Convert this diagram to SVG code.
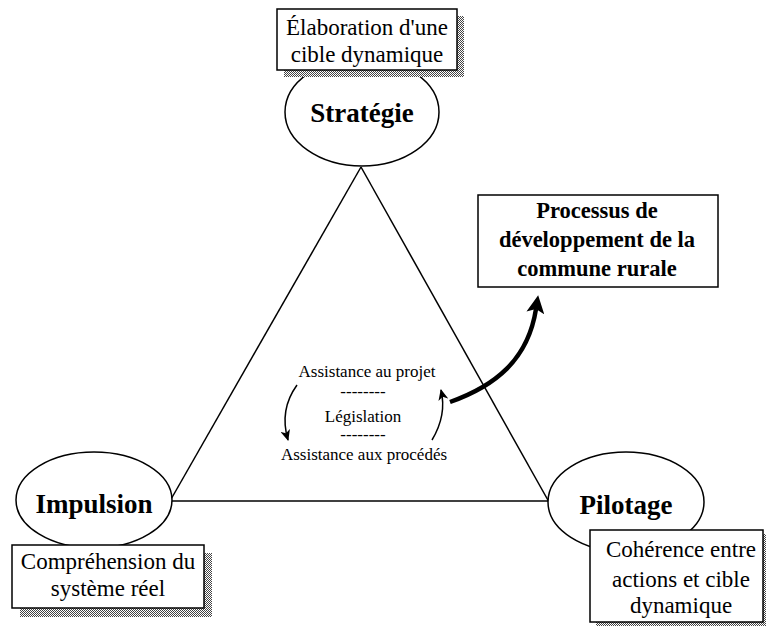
<svg xmlns="http://www.w3.org/2000/svg" width="766" height="628" viewBox="0 0 766 628">
  <style>
    .line { stroke: #000; stroke-width: 1.5; fill: none; }
    .ell { stroke: #000; stroke-width: 1.5; fill: #fff; }
    .box { stroke: #000; stroke-width: 1.5; fill: #fff; }
    .shadow { fill: url(#hatch); }
    .title { font-family: "Liberation Serif", "Times New Roman", serif; font-weight: bold; font-size: 27px; fill: #000; text-anchor: middle; }
    .note { font-family: "Liberation Serif", "Times New Roman", serif; font-size: 23px; fill: #000; text-anchor: middle; }
    .proc { font-family: "Liberation Serif", "Times New Roman", serif; font-weight: bold; font-size: 22.5px; fill: #000; text-anchor: middle; }
    .center { font-family: "Liberation Serif", "Times New Roman", serif; font-size: 17px; fill: #000; text-anchor: middle; }
  </style>
  <defs>
    <pattern id="hatch" width="2" height="2" patternUnits="userSpaceOnUse">
      <rect width="2" height="2" fill="#fff"/>
      <rect width="1" height="1" fill="#444"/>
      <rect x="1" y="1" width="1" height="1" fill="#444"/>
    </pattern>
    <marker id="small" markerWidth="12" markerHeight="10" refX="10" refY="5" orient="auto" markerUnits="userSpaceOnUse">
      <path d="M0,0 L11,5 L0,10 L3,5 z" fill="#000"/>
    </marker>
    <marker id="big" markerWidth="20" markerHeight="18" refX="4" refY="9" orient="auto" markerUnits="userSpaceOnUse">
      <path d="M0,0 L18,9 L0,18 L4,9 z" fill="#000"/>
    </marker>
  </defs>

  <g id="connectors">
    <line class="line" x1="361" y1="167" x2="170" y2="501"/>
    <line class="line" x1="361" y1="167" x2="549" y2="502"/>
    <line class="line" x1="170" y1="501" x2="549" y2="501"/>
    <path class="line" d="M297,385 Q279,410 288,440" marker-end="url(#small)"/>
    <path class="line" d="M432,440 Q447,415 441,390" marker-end="url(#small)"/>
    <path d="M450,402 C495,386 528,360 536,309" stroke="#000" stroke-width="4.5" fill="none" marker-end="url(#big)"/>
  </g>

  <g id="strategie">
    <ellipse class="ell" cx="362" cy="112" rx="77" ry="54"/>
    <text class="title" x="362" y="122">Stratégie</text>
  </g>
  <g id="strategie-note">
    <rect class="shadow" x="284" y="16" width="180" height="61"/>
    <rect class="box" x="277" y="9" width="180" height="61"/>
    <text class="note" x="367" y="35">Élaboration d'une</text>
    <text class="note" x="367" y="62">cible dynamique</text>
  </g>

  <g id="impulsion">
    <ellipse class="ell" cx="94" cy="500" rx="78" ry="48"/>
    <text class="title" x="94" y="513">Impulsion</text>
  </g>
  <g id="impulsion-note">
    <rect class="shadow" x="20" y="553" width="192" height="64"/>
    <rect class="box" x="12" y="545" width="192" height="63"/>
    <text class="note" x="108" y="569">Compréhension du</text>
    <text class="note" x="108" y="596">système réel</text>
  </g>

  <g id="pilotage">
    <ellipse class="ell" cx="626" cy="502" rx="78" ry="50"/>
    <text class="title" x="626" y="514">Pilotage</text>
  </g>
  <g id="pilotage-note">
    <rect class="shadow" x="596" y="534" width="172" height="92"/>
    <rect class="box" x="590" y="530" width="173" height="92"/>
    <text class="note" x="681" y="557">Cohérence entre</text>
    <text class="note" x="681" y="587">actions et cible</text>
    <text class="note" x="681" y="613">dynamique</text>
  </g>

  <g id="processus">
    <rect class="box" x="478" y="195" width="240" height="92"/>
    <text class="proc" x="597" y="218">Processus de</text>
    <text class="proc" x="597" y="247">développement de la</text>
    <text class="proc" x="597" y="276">commune rurale</text>
  </g>

  <g id="centre">
    <text class="center" x="367" y="377">Assistance au projet</text>
    <text class="center" x="363" y="397">--------</text>
    <text class="center" x="363" y="422">Législation</text>
    <text class="center" x="363" y="440">--------</text>
    <text class="center" x="364" y="460">Assistance aux procédés</text>
  </g>
</svg>
